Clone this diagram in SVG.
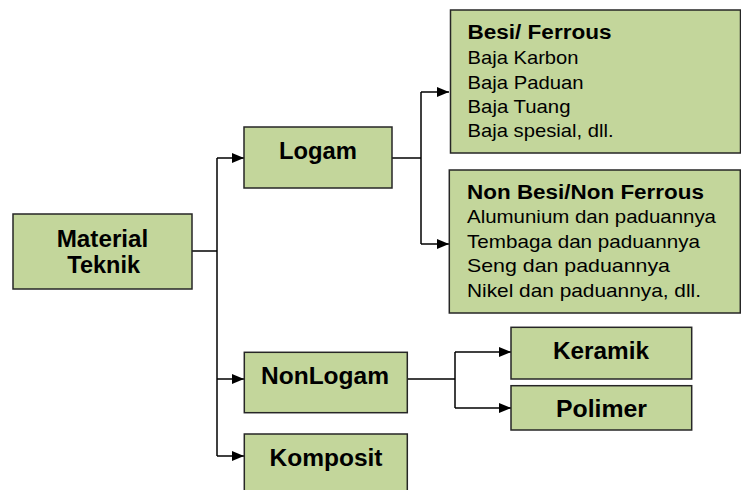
<svg xmlns="http://www.w3.org/2000/svg" width="741" height="490" viewBox="0 0 741 490">
<defs>
<style>
.box{fill:#c3d69b;stroke:#262626;stroke-width:1.5}
.t{font-family:"Liberation Sans",Arial,sans-serif;font-weight:bold;font-size:23.5px;fill:#000}
.h{font-family:"Liberation Sans",Arial,sans-serif;font-weight:bold;font-size:20px;fill:#000}
.r{font-family:"Liberation Sans",Arial,sans-serif;font-size:19px;fill:#000}
.c{fill:none;stroke:#000;stroke-width:1.5}
</style>
<marker id="ah" markerUnits="userSpaceOnUse" markerWidth="13" markerHeight="11" refX="12" refY="5" orient="auto">
<path d="M0,0 L12,5 L0,10 z" fill="#000"/>
</marker>
</defs>
<rect width="741" height="490" fill="#fff"/>
<g id="connectors">
<path class="c" d="M192,251 H217"/>
<path class="c" d="M217,158 V456"/>
<path class="c" d="M217,158 H244" marker-end="url(#ah)"/>
<path class="c" d="M217,379 H244" marker-end="url(#ah)"/>
<path class="c" d="M217,456 H244" marker-end="url(#ah)"/>
<path class="c" d="M392,158 H421"/>
<path class="c" d="M421,92 V244"/>
<path class="c" d="M421,92 H449" marker-end="url(#ah)"/>
<path class="c" d="M421,244 H449" marker-end="url(#ah)"/>
<path class="c" d="M407,379 H455"/>
<path class="c" d="M455,352 V408"/>
<path class="c" d="M455,352 H511" marker-end="url(#ah)"/>
<path class="c" d="M455,408 H511" marker-end="url(#ah)"/>
</g>
<g id="material-teknik">
<rect class="box" x="13" y="214" width="179" height="75"/>
<text class="t" x="56.7" y="246.7" textLength="91.6" lengthAdjust="spacingAndGlyphs">Material</text>
<text class="t" x="67.3" y="273.3" textLength="72.7" lengthAdjust="spacingAndGlyphs">Teknik</text>
</g>
<g id="logam">
<rect class="box" x="244" y="127" width="148" height="61"/>
<text class="t" x="279" y="159" textLength="78" lengthAdjust="spacingAndGlyphs">Logam</text>
</g>
<g id="nonlogam">
<rect class="box" x="244.3" y="352.3" width="163" height="60.4"/>
<text class="t" x="261" y="384" textLength="128" lengthAdjust="spacingAndGlyphs">NonLogam</text>
</g>
<g id="komposit">
<rect class="box" x="244.3" y="434" width="163" height="62"/>
<text class="t" x="269.5" y="465.5" textLength="113" lengthAdjust="spacingAndGlyphs">Komposit</text>
</g>
<g id="besi">
<rect class="box" x="450.5" y="10" width="290" height="143"/>
<text class="h" x="467.5" y="38.5" textLength="144" lengthAdjust="spacingAndGlyphs">Besi/ Ferrous</text>
<text class="r" x="467.5" y="64" textLength="111" lengthAdjust="spacingAndGlyphs">Baja Karbon</text>
<text class="r" x="467.5" y="88.5" textLength="116" lengthAdjust="spacingAndGlyphs">Baja Paduan</text>
<text class="r" x="467.5" y="112.5" textLength="103" lengthAdjust="spacingAndGlyphs">Baja Tuang</text>
<text class="r" x="467.5" y="137" textLength="146" lengthAdjust="spacingAndGlyphs">Baja spesial, dll.</text>
</g>
<g id="non-besi">
<rect class="box" x="449.3" y="170" width="291" height="143"/>
<text class="h" x="467" y="198.5" textLength="237" lengthAdjust="spacingAndGlyphs">Non Besi/Non Ferrous</text>
<text class="r" x="467" y="223" textLength="249" lengthAdjust="spacingAndGlyphs">Alumunium dan paduannya</text>
<text class="r" x="467" y="247.5" textLength="233" lengthAdjust="spacingAndGlyphs">Tembaga dan paduannya</text>
<text class="r" x="467" y="272" textLength="203" lengthAdjust="spacingAndGlyphs">Seng dan paduannya</text>
<text class="r" x="467" y="296.5" textLength="234" lengthAdjust="spacingAndGlyphs">Nikel dan paduannya, dll.</text>
</g>
<g id="keramik">
<rect class="box" x="511" y="327.3" width="180.7" height="51.7"/>
<text class="t" x="553" y="359.3" textLength="96" lengthAdjust="spacingAndGlyphs">Keramik</text>
</g>
<g id="polimer">
<rect class="box" x="511" y="385.7" width="180.7" height="44.3"/>
<text class="t" x="556" y="417.3" textLength="91" lengthAdjust="spacingAndGlyphs">Polimer</text>
</g>
</svg>
